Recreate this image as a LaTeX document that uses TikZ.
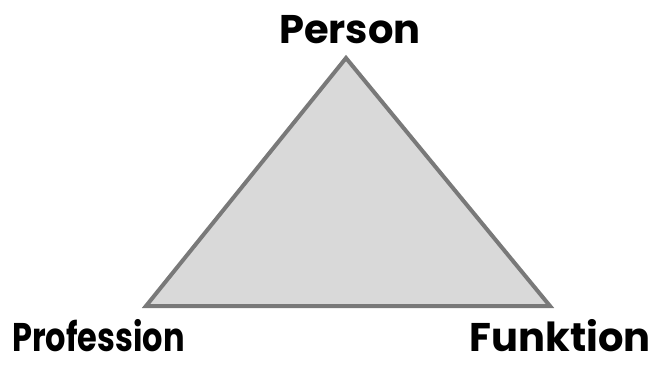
\documentclass[tikz,border=0pt]{standalone}
\usepackage{fontspec}
\setmainfont{Poppins}
\begin{document}
\begin{tikzpicture}[x=1pt,y=-1pt,
  lbl/.style={font=\bfseries\fontsize{40}{44}\selectfont, inner sep=0pt, text=black},
  tri/.style={draw=gray!95!black, fill=black!15, line width=4pt, line join=miter}]
\useasboundingbox (0,0) rectangle (653,364);
\coordinate (P) at (346,58);
\coordinate (L) at (146,306);
\coordinate (R) at (550,306);
\draw[tri] (P) -- (L) -- (R) -- cycle;
\node[lbl, anchor=base] (person) at (350,43) {Person};
\node[lbl, anchor=base west] (prof) at (12,351) {\scalebox{0.8}[1]{Profession}};
\node[lbl, anchor=base east] (funk) at (651,351) {Funktion};
\end{tikzpicture}
\end{document}
